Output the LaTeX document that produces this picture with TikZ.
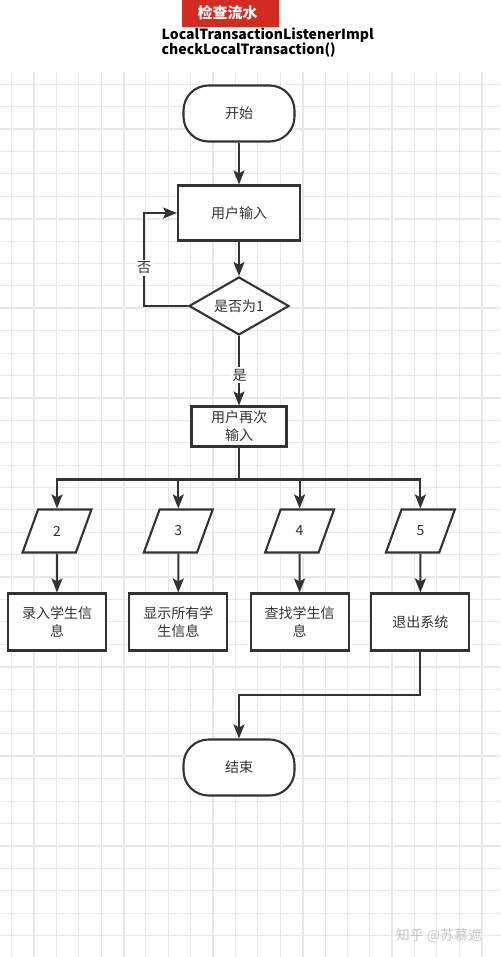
\documentclass[tikz,border=0pt]{standalone}
\usepackage{fontspec}
\newfontfamily\cjk{Noto Sans CJK SC}
\usetikzlibrary{shapes.geometric,arrows.meta}
\definecolor{ln}{HTML}{333333}
\definecolor{gridc}{HTML}{E8E8E8}
\definecolor{hdr}{HTML}{D32B21}
\begin{document}
\begin{tikzpicture}[x=1pt,y=-1pt,
  flow/.style={draw=ln, line width=2.1pt, fill=white, text=ln,
    font=\cjk\fontsize{14}{18}\selectfont, align=center, inner sep=2pt},
  term/.style={flow, rectangle, rounded corners=25pt, minimum width=111pt, minimum height=56pt},
  proc/.style={flow, rectangle},
  dec/.style={flow, diamond, aspect=1.72, minimum width=100pt, minimum height=58pt, inner sep=0pt},
  io/.style={flow, trapezium, trapezium left angle=71, trapezium right angle=109,
    trapezium stretches=true, minimum width=69pt, minimum height=43pt},
  conn/.style={draw=ln, line width=2.1pt},
  arr/.style={conn, -{Stealth[length=14pt,width=11pt,inset=3pt]}},
  lbl/.style={fill=white, text=ln, font=\cjk\fontsize{14}{18}\selectfont, inner sep=1.5pt}]
\useasboundingbox (0,0) rectangle (500,957);
\fill[white] (0,0) rectangle (500,957);
% grid
\foreach \k in {0,...,21}
  \draw[gridc, line width=1pt] ({11.7+22.38*\k},72) -- ({11.7+22.38*\k},957);
\foreach \k in {1,5,9,13,17,21}
  \draw[gridc, line width=1.9pt] ({11.7+22.38*\k},72) -- ({11.7+22.38*\k},957);
\foreach \k in {0,...,38}
  \draw[gridc, line width=1pt] (0,{84.3+22.4*\k}) -- (500,{84.3+22.4*\k});
\foreach \k in {2,6,10,14,18,22,26,30,34,38}
  \draw[gridc, line width=1.9pt] (0,{84.3+22.4*\k}) -- (500,{84.3+22.4*\k});
% header
\node[fill=hdr, anchor=north west, minimum width=97pt, minimum height=27pt, inner sep=0pt] (hdrbox) at (182,0) {};
\node[text=white, font=\cjk\bfseries\fontsize{15}{18}\selectfont, inner sep=0pt] (title) at (227.5,13) {检查流水};
\node[anchor=north west, align=left, text=black, font=\cjk\bfseries\fontsize{14}{15}\selectfont, inner sep=0pt] (cls) at (161.5,28)
  {LocalTransactionListenerImpl\\checkLocalTransaction()};
% nodes
\node[term] (start) at (239,113.5) {开始};
\node[proc, minimum width=122pt, minimum height=55pt] (in1) at (239,213) {用户输入};
\node[dec] (dia) at (239,306) {是否为1};
\node[proc, minimum width=95pt, minimum height=40pt, inner sep=1pt] (in2) at (239,426.5) {用户再次\\输入};
\node[io] (p2) at (57,531) {2};
\node[io] (p3) at (178.3,531) {3};
\node[io] (p4) at (299.6,531) {4};
\node[io] (p5) at (420.4,531) {5};
\foreach \n/\x/\t in {b1/57/{录入学生信\\息}, b2/178.3/{显示所有学\\生信息}, b3/299.6/{查找学生信\\息}, b4/420.4/{退出系统}}
  \node[proc, minimum width=98pt, minimum height=57pt] (\n) at (\x,622) {\t};
\node[term] (end) at (239,767.5) {结束};
% connectors
\draw[arr] (start) -- (in1);
\draw[arr] (in1) -- (dia);
\coordinate (loopc) at (144,306);
\draw[arr] (dia.west) -- (loopc) |- (in1.west);
\node[lbl] (no) at (144,268) {否};
\draw[arr] (dia.south) -- (in2.north);
\node[lbl] (yes) at (239.5,375) {是};
\coordinate (bus) at (239,479.5);
\draw[conn] (in2.south) -- (bus);
\foreach \p in {p2,p3,p4,p5} \draw[arr] (bus) -| (\p.north);
\draw[arr] (p2.south) -- (b1.north);
\draw[arr] (p3.south) -- (b2.north);
\draw[arr] (p4.south) -- (b3.north);
\draw[arr] (p5.south) -- (b4.north);
\coordinate (turn) at (420.4,695);
\draw[arr] (b4.south) -- (turn) -| (end.north);
% watermark
\node[text=gray!45, font=\cjk\fontsize{14}{16}\selectfont, inner sep=0pt] (wm) at (439,936) {知乎 @苏慕遮};
\end{tikzpicture}
\end{document}
